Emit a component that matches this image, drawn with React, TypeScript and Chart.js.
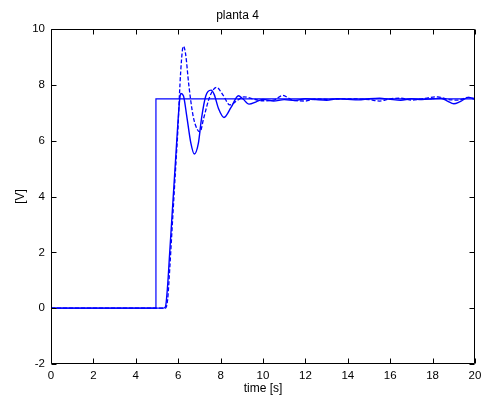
import React, { useEffect, useRef } from "react";
import { Chart, registerables } from "chart.js";

Chart.register(...registerables);

const titleText = "planta 4";
const xLabel = "time [s]";
const yLabel = "[V]";

const xTicks = [0, 2, 4, 6, 8, 10, 12, 14, 16, 18, 20];
const yTicks = [-2, 0, 2, 4, 6, 8, 10];

// reference step input
const stepTime = [0, 4.95, 4.95, 20];
const stepValue = [0, 0, 7.5, 7.5];

// solid response
const solidTime = [
  0, 5.3, 5.4, 5.5, 5.6, 5.7, 5.8, 5.9, 6.0, 6.08, 6.13, 6.25, 6.4, 6.6, 6.76,
  6.95, 7.1, 7.3, 7.55, 7.7, 7.9, 8.16, 8.5, 8.84, 9.05, 9.34, 9.7, 10, 10.5, 11,
  11.5, 12, 12.5, 13, 13.5, 14, 14.5, 15, 15.5, 16, 16.5, 17, 17.5, 18, 18.4,
  18.7, 19.0, 19.3, 19.7, 20,
];
const solidValue = [
  0, 0, 0.05, 0.8, 2.0, 3.2, 4.4, 5.6, 6.8, 7.55, 7.69, 7.6, 6.9, 5.9, 5.52,
  5.9, 6.8, 7.6, 7.81, 7.65, 7.15, 6.83, 7.2, 7.61, 7.5, 7.31, 7.4, 7.48, 7.42,
  7.47, 7.44, 7.5, 7.47, 7.45, 7.5, 7.48, 7.46, 7.5, 7.52, 7.48, 7.45, 7.5,
  7.47, 7.5, 7.52, 7.42, 7.32, 7.4, 7.55, 7.5,
];

// dashed response
const dashedTime = [
  0, 5.4, 5.5, 5.6, 5.7, 5.8, 5.9, 6.0, 6.05, 6.12, 6.2, 6.25, 6.35, 6.5, 6.7,
  6.9, 7.03, 7.2, 7.5, 7.81, 8.1, 8.44, 8.8, 9.1, 9.5, 10, 10.5, 10.93, 11.4, 12,
  12.5, 13, 14, 15, 15.5, 16, 16.5, 17, 17.5, 18.25, 18.7, 19.2, 19.67, 20,
];
const dashedValue = [
  0, 0, 0.3, 1.4, 2.7, 4.0, 5.3, 6.6, 7.5, 8.5, 9.25, 9.38, 9.1, 8.0, 6.9,
  6.4, 6.32, 6.8, 7.6, 7.91, 7.65, 7.28, 7.45, 7.57, 7.5, 7.43, 7.45, 7.62,
  7.45, 7.42, 7.5, 7.48, 7.5, 7.47, 7.42, 7.5, 7.52, 7.45, 7.5, 7.57, 7.48,
  7.45, 7.55, 7.48,
];

const toPoints = (xs: number[], ys: number[]) =>
  xs.map((x, i) => ({ x, y: ys[i] }));

const FONT = "'Liberation Sans', Arial, Helvetica, sans-serif";
const BLUE = "#0000ff";

const boxPlugin = {
  id: "matlabBox",
  afterDraw(chart: any) {
    const { ctx, chartArea } = chart;
    const xs = chart.scales.x;
    const ys = chart.scales.y;
    const L = Math.round(chartArea.left) + 0.5;
    const R = Math.round(chartArea.right) - 0.5;
    const T = Math.round(chartArea.top) + 0.5;
    const B = Math.round(chartArea.bottom) - 0.5;
    const tl = 5;
    ctx.save();
    ctx.strokeStyle = "#000";
    ctx.lineWidth = 1;
    ctx.beginPath();
    ctx.rect(L, T, R - L, B - T);
    for (const v of xTicks) {
      const px = Math.round(xs.getPixelForValue(v)) + 0.5;
      ctx.moveTo(px, B);
      ctx.lineTo(px, B - tl);
      ctx.moveTo(px, T);
      ctx.lineTo(px, T + tl);
    }
    for (const v of yTicks) {
      const py = Math.round(ys.getPixelForValue(v)) + 0.5;
      ctx.moveTo(L, py);
      ctx.lineTo(L + tl, py);
      ctx.moveTo(R, py);
      ctx.lineTo(R - tl, py);
    }
    ctx.stroke();
    ctx.restore();
  },
};

export default function App() {
  const ref = useRef<HTMLCanvasElement | null>(null);

  useEffect(() => {
    if (!ref.current) return;
    const chart = new Chart(ref.current, {
      type: "line",
      data: {
        datasets: [
          {
            label: "step",
            data: toPoints(stepTime, stepValue),
            borderColor: BLUE,
            borderWidth: 1.2,
            pointRadius: 0,
            tension: 0,
          },
          {
            label: "solid",
            data: toPoints(solidTime, solidValue),
            borderColor: BLUE,
            borderWidth: 1.4,
            pointRadius: 0,
            cubicInterpolationMode: "monotone",
          },
          {
            label: "dashed",
            data: toPoints(dashedTime, dashedValue),
            borderColor: BLUE,
            borderWidth: 1.3,
            borderDash: [4, 2],
            pointRadius: 0,
            cubicInterpolationMode: "monotone",
          },
        ],
      },
      options: {
        animation: false,
        responsive: false,
        devicePixelRatio: 1,
        layout: { padding: { left: 0, right: 8, top: 0, bottom: 0 } },
        plugins: {
          legend: { display: false },
          tooltip: { enabled: false },
          title: {
            display: true,
            text: titleText,
            color: "#000",
            font: { family: FONT, size: 12, weight: "normal" },
            padding: { top: 8, bottom: 6.6 },
          },
        },
        scales: {
          x: {
            type: "linear",
            min: 0,
            max: 20,
            afterFit: (s: any) => {
              s.height = 34;
              s.paddingLeft = 0;
              s.paddingRight = 0;
            },
            afterBuildTicks: (s: any) => {
              s.ticks = xTicks.map((v) => ({ value: v }));
            },
            ticks: {
              color: "#000",
              font: { family: FONT, size: 11.5 },
              padding: 5,
              maxRotation: 0,
              autoSkip: false,
            },
            grid: { display: false, drawTicks: false },
            border: { display: false },
            title: {
              display: true,
              text: xLabel,
              color: "#000",
              font: { family: FONT, size: 12 },
              padding: { top: 0, bottom: 2 },
            },
          },
          y: {
            type: "linear",
            min: -2,
            max: 10,
            afterFit: (s: any) => {
              s.width = 51;
              s.paddingTop = 0;
              s.paddingBottom = 0;
            },
            afterBuildTicks: (s: any) => {
              s.ticks = yTicks.map((v) => ({ value: v }));
            },
            ticks: {
              color: "#000",
              font: { family: FONT, size: 11.5 },
              padding: 6,
              autoSkip: false,
            },
            grid: { display: false, drawTicks: false },
            border: { display: false },
            title: {
              display: true,
              text: yLabel,
              color: "#000",
              font: { family: FONT, size: 12 },
              padding: { top: 13, bottom: 0 },
            },
          },
        },
      },
      plugins: [boxPlugin],
    });
    return () => chart.destroy();
  }, []);

  return (
    <div
      style={{
        position: "fixed",
        left: 0,
        top: 0,
        width: 483,
        height: 398,
        background: "#fff",
      }}
    >
      <canvas ref={ref} width={483} height={398} />
    </div>
  );
}
